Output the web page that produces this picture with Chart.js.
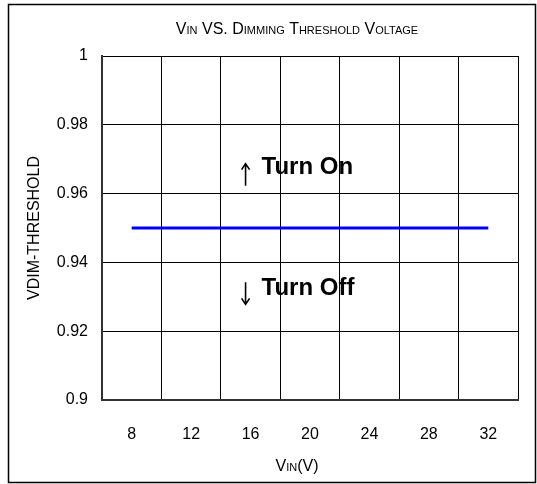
<!DOCTYPE html>
<html>
<head>
<meta charset="utf-8">
<script src="https://cdn.jsdelivr.net/npm/chart.js@4.4.0/dist/chart.umd.min.js"></script>
<style>
  html, body { margin: 0; padding: 0; background: #fff; }
  #wrap { width: 537px; height: 484px; }
</style>
</head>
<body>
<div id="wrap"><canvas id="chartCanvas"></canvas></div>
<script>
// data
const vinLabels = ['8', '12', '16', '20', '24', '28', '32'];
const thresholdValues = [0.95, 0.95, 0.95, 0.95, 0.95, 0.95, 0.95];
const yTicks = [0.9, 0.92, 0.94, 0.96, 0.98, 1];

const FONT = '"Liberation Sans", Arial, sans-serif';

// draws a run of [text, size] pieces, centred on x
function drawRuns(ctx, runs, x, y) {
    let total = 0;
    runs.forEach(r => {
        ctx.font = r[1] + 'px ' + FONT;
        total += ctx.measureText(r[0]).width;
    });
    let cx = x - total / 2;
    ctx.textBaseline = 'alphabetic';
    ctx.textAlign = 'left';
    runs.forEach(r => {
        ctx.font = r[1] + 'px ' + FONT;
        ctx.fillText(r[0], cx, y);
        cx += ctx.measureText(r[0]).width;
    });
}

const decorations = {
    id: 'decorations',
    beforeDraw(chart) {
        const ctx = chart.ctx;
        ctx.save();
        ctx.fillStyle = '#fff';
        ctx.fillRect(0, 0, chart.width, chart.height);
        ctx.strokeStyle = '#000';
        ctx.lineWidth = 1.5;
        ctx.strokeRect(8.5, 4.5, 527, 478);
        ctx.restore();
    },
    afterDraw(chart) {
        const ctx = chart.ctx;
        const area = chart.chartArea;
        const x = chart.scales.x, y = chart.scales.y;
        ctx.save();
        ctx.fillStyle = '#000';

        // title with small caps
        drawRuns(ctx, [
            ['V', 16], ['IN', 11], [' VS. D', 16], ['IMMING', 11],
            [' T', 16], ['HRESHOLD', 11], [' V', 16], ['OLTAGE', 11]
        ], 297, 34);

        // x axis title
        drawRuns(ctx, [['V', 16], ['IN', 11], ['(V)', 16]], 297, 471);

        // y axis title
        ctx.translate(35, (area.top + area.bottom) / 2);
        ctx.rotate(-Math.PI / 2);
        ctx.font = '16px ' + FONT;
        ctx.textAlign = 'center';
        ctx.textBaseline = 'middle';
        ctx.fillText('VDIM-THRESHOLD', 0, 0);
        ctx.restore();

        // turn on / off notes
        ctx.save();
        ctx.fillStyle = '#000';
        ctx.font = 'bold 24px ' + FONT;
        ctx.textBaseline = 'middle';
        const ax = x.getPixelForValue(2) - 5;
        ctx.fillText('Turn On', ax + 16, y.getPixelForValue(0.9675));
        ctx.fillText('Turn Off', ax + 16, y.getPixelForValue(0.9325));
        ctx.strokeStyle = '#000';
        ctx.lineWidth = 1.6;
        const arrow = (yc, up) => {
            const top = yc - 11, bot = yc + 11;
            ctx.beginPath();
            ctx.moveTo(ax, top); ctx.lineTo(ax, bot);
            if (up) {
                ctx.moveTo(ax - 4, top + 6); ctx.lineTo(ax, top); ctx.lineTo(ax + 4, top + 6);
            } else {
                ctx.moveTo(ax - 4, bot - 6); ctx.lineTo(ax, bot); ctx.lineTo(ax + 4, bot - 6);
            }
            ctx.stroke();
        };
        arrow(y.getPixelForValue(0.9655), true);
        arrow(y.getPixelForValue(0.931), false);
        ctx.restore();
    }
};

new Chart(document.getElementById('chartCanvas'), {
    type: 'line',
    data: {
        labels: vinLabels,
        datasets: [{
            data: thresholdValues,
            borderColor: '#0000ff',
            borderWidth: 3,
            pointRadius: 0,
            tension: 0
        }]
    },
    options: {
        responsive: true,
        maintainAspectRatio: false,
        animation: false,
        events: [],
        layout: { padding: { left: 9, right: 19, top: 56, bottom: 6 } },
        plugins: { legend: { display: false }, tooltip: { enabled: false } },
        scales: {
            x: {
                type: 'category',
                offset: true,
                grid: { offset: true, color: '#000', lineWidth: 1, drawTicks: false },
                border: { color: '#333', width: 2 },
                ticks: { color: '#000', font: { family: FONT, size: 16 }, padding: 25, maxRotation: 0 },
                afterFit(scale) { scale.height = 78; }
            },
            y: {
                min: 0.9,
                max: 1,
                afterBuildTicks(scale) { scale.ticks = yTicks.map(v => ({ value: v })); },
                grid: { color: '#000', lineWidth: 1, drawTicks: false },
                border: { color: '#333', width: 2 },
                ticks: {
                    color: '#000',
                    font: { family: FONT, size: 16 },
                    padding: 14,
                    callback: v => String(Math.round(v * 100) / 100)
                },
                afterFit(scale) { scale.width = 93; }
            }
        }
    },
    plugins: [decorations]
});
</script>
</body>
</html>
